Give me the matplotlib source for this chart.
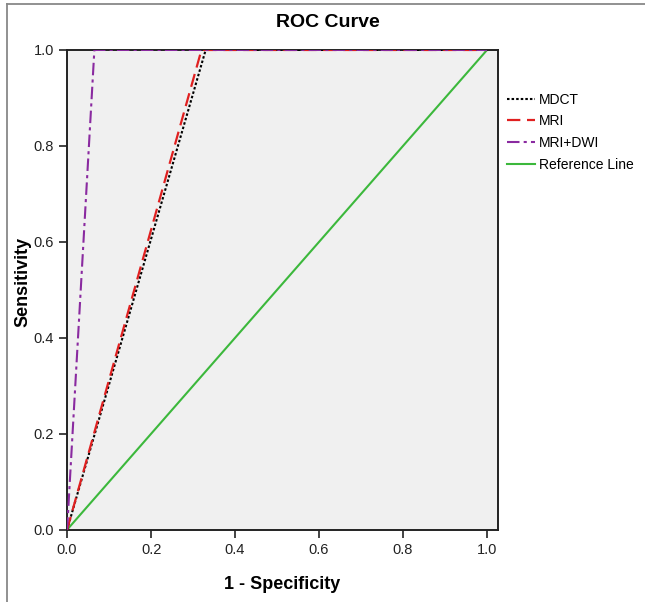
import matplotlib
matplotlib.use("Agg")
import matplotlib.pyplot as plt
from matplotlib.lines import Line2D

plt.rcParams['font.family'] = ['Liberation Sans Narrow', 'Liberation Sans', 'DejaVu Sans']

# --- data ---
mdct_x = [0.0, 0.0, 0.33, 1.0]
mdct_y = [0.0, 0.0, 1.0, 1.0]
mri_x = [0.0, 0.0, 0.32, 1.0]
mri_y = [0.0, 0.0, 1.0, 1.0]
dwi_x = [0.0, 0.0, 0.065, 1.0]
dwi_y = [0.0, 0.0, 1.0, 1.0]
ref_x = [0.0, 1.0]
ref_y = [0.0, 1.0]
ticks = [0.0, 0.2, 0.4, 0.6, 0.8, 1.0]

fig = plt.figure(figsize=(6.45, 6.02), dpi=100)
ax = fig.add_axes([0.104, 0.12, 0.668, 0.797])
ax.set_facecolor('#f0f0f0')

ax.plot(ref_x, ref_y, color='#3cb83c', lw=1.5, label='Reference Line', zorder=2)
ax.plot(mdct_x, mdct_y, color='black', lw=1.5, ls=(0, (1.2, 1.0)), label='MDCT', zorder=3)
ax.plot(mri_x, mri_y, color='#e02020', lw=1.6, ls=(0, (6, 3)), label='MRI', zorder=4)
ax.plot(dwi_x, dwi_y, color='#8a2aa0', lw=1.5, ls=(0, (6, 2, 1.5, 2)), label='MRI+DWI', zorder=5)

ax.set_xlim(0, 1.026)
ax.set_ylim(0, 1.0)
ax.set_xticks(ticks)
ax.set_yticks(ticks)
ax.set_xticklabels([f'{t:.1f}' for t in ticks], fontsize=10.5)
ax.set_yticklabels([f'{t:.1f}' for t in ticks], fontsize=10.5)
ax.tick_params(direction='out', length=6, width=1.2, colors='#222222')
for s in ax.spines.values():
    s.set_color('#222222')
    s.set_linewidth(1.4)

ax.set_xlabel('1 - Specificity', fontsize=13, fontweight='bold', labelpad=14)
fig.text(23 / 645, 1 - 282 / 602, 'Sensitivity', rotation=90, ha='center', va='center',
         fontsize=13, fontweight='bold')
fig.text(0.508, 0.963, 'ROC Curve', ha='center', va='center', fontsize=14, fontweight='bold')

handles, labels = ax.get_legend_handles_labels()
order = [1, 2, 3, 0]
fig.legend([handles[i] for i in order], [labels[i] for i in order],
           loc='upper left', bbox_to_anchor=(0.786, 0.846), frameon=False,
           borderpad=0, borderaxespad=0,
           fontsize=10, handlelength=2.0, handletextpad=0.3, labelspacing=0.55)

# grey border on the left and top of the picture
fig.add_artist(Line2D([7 / 645, 7 / 645], [0, 1 - 4 / 602], transform=fig.transFigure,
                      color='#888888', lw=1.3))
fig.add_artist(Line2D([7 / 645, 1], [1 - 4 / 602, 1 - 4 / 602], transform=fig.transFigure,
                      color='#888888', lw=1.3))

fig.savefig('out.png', dpi=100)
